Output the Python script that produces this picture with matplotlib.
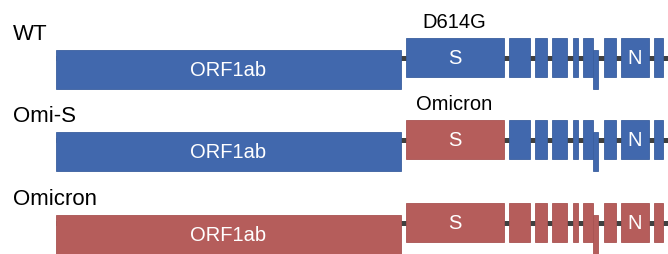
import matplotlib
matplotlib.use("Agg")
import matplotlib.pyplot as plt
from matplotlib.patches import Rectangle

plt.rcParams["font.family"] = ["Liberation Sans", "DejaVu Sans"]

BLUE, RED = "#4168ad", "#b55d5b"
EDGE = {BLUE: "#3a5f9f", RED: "#a85352"}

# genome layout (drawing units)
genes = ["ORF1ab", "S", "3a", "E", "M", "6", "7a", "7b", "8", "N", "10"]
g_start = [56, 406, 509, 535, 552, 573, 583, 593, 604, 621, 654]
g_end = [401, 504, 530, 547, 567, 578, 593, 598, 616, 649, 663]
lowered = ["ORF1ab", "7b"]
shown = ["ORF1ab", "S", "N"]

rows = ["WT", "Omi-S", "Omicron"]
row_y = [57.5, 139.5, 222.5]
spike_label = ["D614G", "Omicron", ""]
colors = {
    "WT": {g: BLUE for g in genes},
    "Omi-S": {g: (RED if g == "S" else BLUE) for g in genes},
    "Omicron": {g: RED for g in genes},
}

H, DROP = 39, 12

fig = plt.figure(figsize=(6.68, 2.54), dpi=100)
ax = fig.add_axes([0, 0, 1, 1])
ax.set_xlim(0, 668); ax.set_ylim(254, 0)
ax.axis("off")

for name, yc, sl in zip(rows, row_y, spike_label):
    ax.plot([g_start[0], 668], [yc, yc], color="#404040", lw=3.6, zorder=1,
            solid_capstyle="butt")
    for g, x0, x1 in zip(genes, g_start, g_end):
        y0 = yc - H / 2 + (DROP if g in lowered else 0)
        c = colors[name][g]
        ax.add_patch(Rectangle((x0, y0), x1 - x0, H, facecolor=c,
                               edgecolor=EDGE[c], lw=0.6, zorder=2))
        if g in shown:
            ax.text((x0 + x1) / 2, y0 + H / 2 + 1, g, color="white", fontsize=14.5,
                    ha="center", va="center", zorder=3)
    ax.text(13, yc - 17.5, name, fontsize=16, ha="left", va="baseline")
    if sl:
        s = genes.index("S")
        ax.text((g_start[s] + g_end[s]) / 2 - 1, yc - 29.5, sl, fontsize=14.5,
                ha="center", va="baseline")

fig.savefig("out.png", dpi=100)
